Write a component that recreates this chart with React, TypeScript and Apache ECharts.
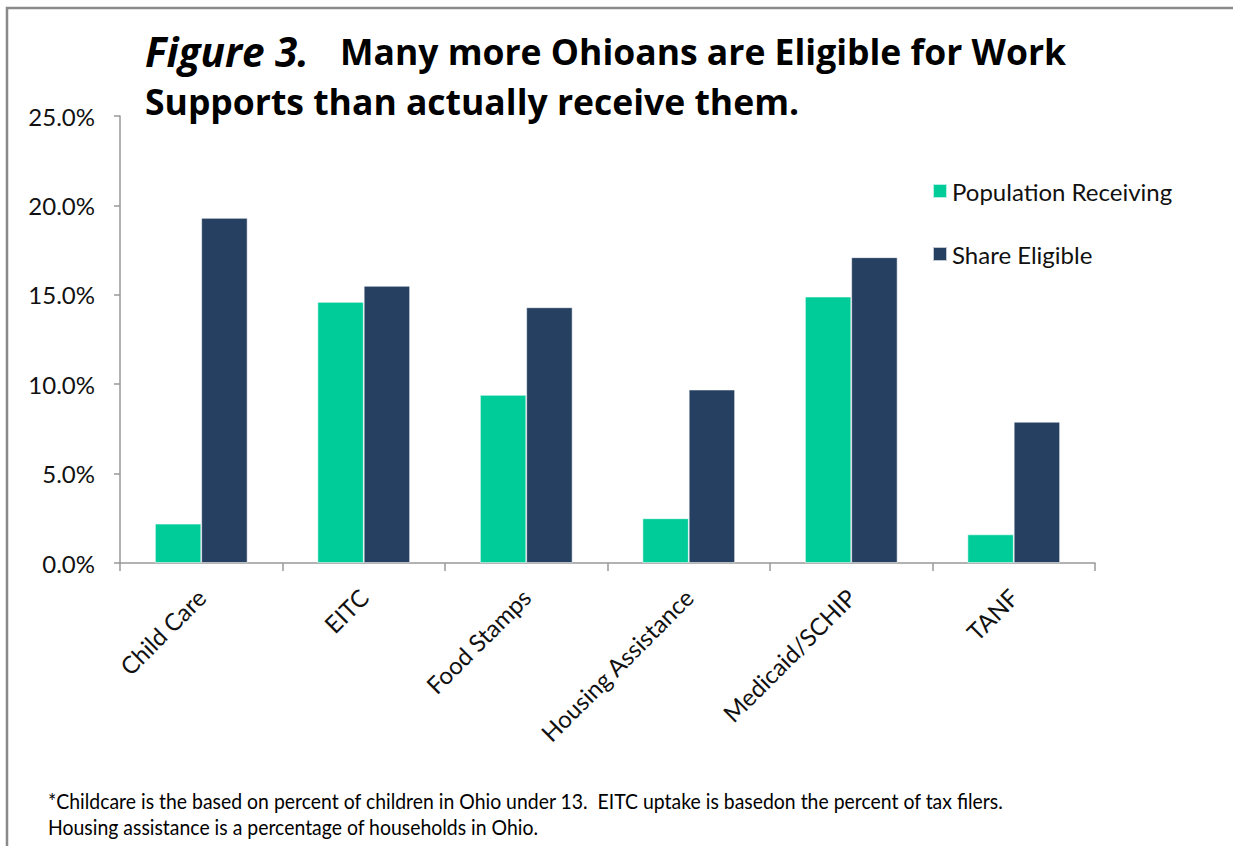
import React, { useEffect, useRef } from "react";
import * as echarts from "echarts";

const categories = ["Child Care", "EITC", "Food Stamps", "Housing Assistance", "Medicaid/SCHIP", "TANF"];
const receiving = [2.2, 14.6, 9.4, 2.5, 14.9, 1.6];
const eligible = [19.3, 15.5, 14.3, 9.7, 17.1, 7.9];
const seriesNames = ["Population Receiving", "Share Eligible"];
const titleItalic = "Figure 3.";
const titleLine1 = "Many more Ohioans are Eligible for Work";
const titleLine2 = "Supports than actually receive them.";
const footLine1 = "*Childcare is the based on percent of children in Ohio under 13.  EITC uptake is basedon the percent of tax filers.";
const footLine2 = "Housing assistance is a percentage of households in Ohio.";

const FONT = "Lato, 'Open Sans', sans-serif";
const TFONT = "'Open Sans', Lato, sans-serif";

export default function App() {
  const ref = useRef<HTMLDivElement>(null);
  useEffect(() => {
    document.body.style.margin = "0";
    const chart = echarts.init(ref.current!, null, { renderer: "svg" });
    chart.setOption({
      animation: false,
      backgroundColor: "#fff",
      textStyle: { fontFamily: FONT },
      grid: { left: 120, right: 138, top: 116, bottom: 283, containLabel: false },
      legend: {
        orient: "vertical",
        left: 927,
        top: 174,
        itemWidth: 14,
        itemHeight: 14,
        itemGap: 39,
        icon: "rect",
        textStyle: { fontSize: 24, color: "#111", fontFamily: FONT },
        data: seriesNames,
      },
      xAxis: {
        type: "category",
        data: categories,
        axisLine: { show: true, lineStyle: { color: "#999", width: 1.5 } },
        axisTick: { show: true, length: 8, lineStyle: { color: "#999", width: 1.5 } },
        axisLabel: { rotate: 45, margin: 30, fontSize: 24, color: "#111", fontFamily: FONT, interval: 0 },
      },
      yAxis: {
        type: "value",
        min: 0,
        max: 25,
        interval: 5,
        splitLine: { show: false },
        axisLine: { show: true, lineStyle: { color: "#999", width: 1.5 } },
        axisTick: { show: true, length: 6, lineStyle: { color: "#999", width: 1.5 } },
        axisLabel: {
          margin: 25,
          fontSize: 24,
          color: "#111",
          fontFamily: FONT,
          formatter: (v: number) => v.toFixed(1) + "%",
        },
      },
      series: [
        {
          name: seriesNames[0],
          type: "bar",
          data: receiving,
          barGap: "0%",
          barCategoryGap: "43%",
          itemStyle: { color: "#00CC99", borderColor: "rgba(255,255,255,0.7)", borderWidth: 0.8 },
        },
        {
          name: seriesNames[1],
          type: "bar",
          data: eligible,
          barGap: "0%",
          barCategoryGap: "43%",
          itemStyle: { color: "#254061", borderColor: "rgba(255,255,255,0.7)", borderWidth: 0.8 },
        },
      ],
      graphic: [
        {
          type: "rect",
          shape: { x: 7, y: 8, width: 1400, height: 1000 },
          style: { fill: "none", stroke: "#8a8a8a", lineWidth: 2.5 },
          silent: true,
        },
        {
          type: "text",
          x: 145,
          y: 51,
          style: {
            text: titleItalic,
            fontSize: 40.5,
            fontWeight: "bold",
            fontStyle: "italic",
            fontFamily: TFONT,
            fill: "#000",
            verticalAlign: "middle",
          },
        },
        {
          type: "text",
          x: 340,
          y: 51,
          style: {
            text: titleLine1,
            fontSize: 35.5,
            fontWeight: "bold",
            fontFamily: TFONT,
            fill: "#000",
            verticalAlign: "middle",
          },
        },
        {
          type: "text",
          x: 145,
          y: 101,
          style: {
            text: titleLine2,
            fontSize: 35.5,
            fontWeight: "bold",
            fontFamily: TFONT,
            fill: "#000",
            verticalAlign: "middle",
          },
        },
        {
          type: "text",
          x: 48,
          y: 801,
          scaleX: 0.925,
          style: { text: footLine1, fontSize: 21, fontFamily: FONT, fill: "#000", verticalAlign: "middle" },
        },
        {
          type: "text",
          x: 48,
          y: 827,
          scaleX: 0.925,
          style: { text: footLine2, fontSize: 21, fontFamily: FONT, fill: "#000", verticalAlign: "middle" },
        },
      ],
    });
    return () => chart.dispose();
  }, []);
  return <div ref={ref} style={{ width: 1233, height: 846 }} />;
}
